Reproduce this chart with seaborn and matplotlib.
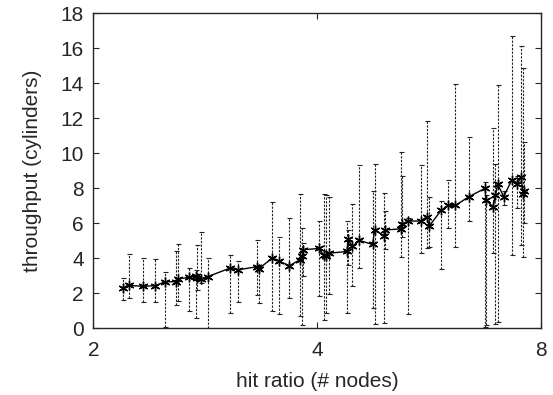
import numpy as np
import pandas as pd
import seaborn as sns
from matplotlib import pyplot as plt
from matplotlib.ticker import NullLocator

# hit ratio (x), mean throughput and min / max of each run
hit_ratio = [2.19, 2.23, 2.33, 2.42, 2.50, 2.58, 2.60, 2.69, 2.75, 2.76,
             2.79, 2.85, 3.05, 3.13, 3.32, 3.34, 3.48, 3.55, 3.67, 3.79,
             3.82, 3.83, 4.02, 4.08, 4.11, 4.15, 4.39, 4.40, 4.46, 4.56,
             4.75, 4.78, 4.92, 4.94, 5.18, 5.20, 5.30, 5.51, 5.62, 5.66,
             5.88, 6.00, 6.14, 6.40, 6.73, 6.75, 6.90, 6.95, 7.00, 7.13,
             7.31, 7.43, 7.53, 7.57, 7.59]
throughput = [2.32, 2.45, 2.40, 2.43, 2.66, 2.66, 2.82, 2.91, 2.97, 2.86,
              2.82, 2.95, 3.43, 3.34, 3.52, 3.41, 4.01, 3.85, 3.57, 3.91,
              4.14, 4.49, 4.56, 4.20, 4.14, 4.29, 4.39, 5.10, 4.68, 5.02,
              4.79, 5.63, 5.29, 5.62, 5.68, 5.95, 6.13, 6.13, 6.37, 5.84,
              6.76, 7.02, 7.02, 7.52, 8.00, 7.33, 6.94, 7.61, 8.24, 7.52,
              8.47, 8.22, 8.66, 7.67, 7.85]
low = [1.61, 1.74, 1.48, 1.51, 0.05, 1.32, 1.57, 1.00, 0.56, 2.20,
       2.60, 0.00, 0.88, 1.48, 1.90, 1.46, 0.98, 0.79, 1.71, 0.71,
       0.21, 3.00, 1.86, 0.46, 0.88, 1.94, 0.88, 3.60, 2.42, 3.47,
       1.17, 0.27, 0.31, 4.54, 4.08, 5.20, 0.80, 4.33, 4.57, 4.62,
       3.38, 5.73, 4.65, 6.14, 0.07, 0.20, 4.33, 0.27, 0.36, 7.04,
       4.18, 6.85, 4.75, 4.08, 6.00]
high = [2.86, 4.25, 3.99, 3.95, 3.20, 4.43, 4.81, 3.45, 3.33, 4.75,
        5.50, 3.99, 4.18, 3.85, 5.06, 3.60, 7.20, 5.21, 6.31, 7.69,
        5.73, 4.90, 6.15, 7.69, 7.63, 7.52, 6.11, 5.60, 7.11, 9.33,
        7.84, 9.37, 7.74, 6.73, 10.10, 8.70, 6.30, 9.35, 11.85, 7.53,
        7.29, 8.50, 13.95, 10.91, 8.37, 7.60, 11.43, 9.37, 13.92, 7.86,
        16.72, 8.70, 16.14, 14.90, 10.66]

df = pd.DataFrame({'x': hit_ratio, 'y': throughput, 'lo': low, 'hi': high})

sns.set_style('ticks')
plt.rcParams['font.family'] = ['Liberation Sans', 'DejaVu Sans']

fig, ax = plt.subplots(figsize=(5.53, 3.95), dpi=100)
fig.subplots_adjust(left=0.169, right=0.978, bottom=0.169, top=0.966)

# dashed min/max bars
eb = ax.errorbar(df.x, df.y, yerr=[df.y - df.lo, df.hi - df.y], fmt='none',
                 ecolor='#222222', elinewidth=0.8, capsize=1.8, capthick=0.8)
for bl in eb[2]:
    bl.set_linestyle((0, (2.0, 1.3)))

sns.lineplot(data=df, x='x', y='y', sort=False, ax=ax, color='black',
             linewidth=1.0, marker=(6, 2, 0), markersize=7,
             markeredgewidth=1.0, markeredgecolor='black')

ax.set_xscale('log', base=2)
ax.set_xlim(2, 8)
ax.set_ylim(0, 18)
ax.set_xticks([2, 4, 8])
ax.set_xticklabels(['2', '4', '8'])
ax.xaxis.set_minor_locator(NullLocator())
ax.set_yticks(np.arange(0, 19, 2))

ax.tick_params(direction='in', top=True, right=True, length=4, width=0.8,
               labelsize=15)
ax.tick_params(axis='x', pad=9)
ax.tick_params(axis='y', pad=7)
for s in ax.spines.values():
    s.set_linewidth(1.0)
    s.set_visible(True)

ax.set_xlabel('hit ratio (# nodes)', fontsize=15, labelpad=9)
ax.set_ylabel('throughput (cylinders)', fontsize=15, labelpad=13)

plt.savefig('out.png', dpi=100)
